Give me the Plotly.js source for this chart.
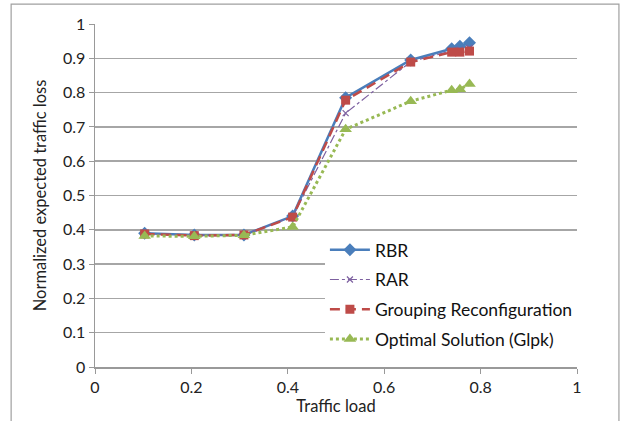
<!DOCTYPE html>
<html>
<head>
<meta charset="utf-8">
<script src="https://cdn.plot.ly/plotly-3.0.1.min.js"></script>
<style>
  html, body { margin: 0; padding: 0; background: #fff; }
  #chart { width: 625px; height: 421px; }
</style>
</head>
<body>
<div id="chart"></div>
<script>
// Traffic load on the x axis, shared by all four methods
const trafficLoad = [0.103, 0.206, 0.309, 0.41, 0.52, 0.655, 0.74, 0.757, 0.777];

// Normalized expected traffic loss per method
const rbrLoss      = [0.390, 0.385, 0.385, 0.440, 0.785, 0.895, 0.928, 0.935, 0.945];
const rarLoss      = [0.388, 0.384, 0.386, 0.438, 0.740, 0.890, 0.922, 0.925, 0.930];
const groupingLoss = [0.388, 0.383, 0.385, 0.437, 0.778, 0.889, 0.918, 0.918, 0.921];
const optimalLoss  = [0.382, 0.381, 0.384, 0.408, 0.693, 0.775, 0.807, 0.810, 0.825];

const seriesNames = ['RBR', 'RAR', 'Grouping Reconfiguration', 'Optimal Solution (Glpk)'];
const xTicks = [0, 0.2, 0.4, 0.6, 0.8, 1];
const yTicks = [0, 0.1, 0.2, 0.3, 0.4, 0.5, 0.6, 0.7, 0.8, 0.9, 1];

const font = 'Lato, Open Sans, sans-serif';

const traces = [
  {
    x: trafficLoad, y: rbrLoss, name: seriesNames[0], legendgroup: 'a',
    mode: 'lines+markers', type: 'scatter',
    line: { color: '#4a7ebb', width: 2.5 },
    marker: { symbol: 'diamond', size: 10, color: '#4a7ebb' }
  },
  {
    x: trafficLoad, y: rarLoss, name: seriesNames[1], legendgroup: 'b',
    mode: 'lines+markers', type: 'scatter',
    line: { color: '#7d60a0', width: 1.2, dash: 'dashdot' },
    marker: { symbol: 'x-thin', size: 6, color: '#7d60a0', line: { color: '#7d60a0', width: 1.2 } }
  },
  {
    x: trafficLoad, y: groupingLoss, name: seriesNames[2], legendgroup: 'c',
    mode: 'lines+markers', type: 'scatter',
    line: { color: '#be4b48', width: 2.5, dash: '10px,6px' },
    marker: { symbol: 'square', size: 9, color: '#be4b48' }
  },
  {
    x: trafficLoad, y: optimalLoss, name: seriesNames[3], legendgroup: 'd',
    mode: 'lines+markers', type: 'scatter',
    line: { color: '#98b954', width: 3, dash: 'dot' },
    marker: { symbol: 'triangle-up', size: 11, color: '#98b954' }
  }
];

const layout = {
  width: 625, height: 421,
  margin: { l: 95, r: 48, t: 24, b: 54 },
  paper_bgcolor: '#ffffff',
  plot_bgcolor: '#ffffff',
  font: { family: font, size: 16, color: '#222' },
  showlegend: true,
  legend: {
    x: 0.477, y: 0.394, xanchor: 'left', yanchor: 'top',
    bgcolor: '#ffffff', borderwidth: 0,
    font: { family: font, size: 17.5, color: '#111' },
    tracegroupgap: 4, itemwidth: 40
  },
  xaxis: {
    range: [0, 1], tickvals: xTicks, ticktext: xTicks.map(String),
    showgrid: false, zeroline: false,
    showline: true, linecolor: '#999', linewidth: 1.5,
    ticks: 'outside', ticklen: 5, tickcolor: '#999',
    tickfont: { family: font, size: 16, color: '#222' },
    title: { text: 'Traffic load', font: { family: font, size: 16.5, color: '#222' }, standoff: 0 }
  },
  yaxis: {
    range: [0, 1], tickvals: yTicks, ticktext: yTicks.map(String),
    showgrid: true, gridcolor: '#a6a6a6', gridwidth: 1.5,
    zeroline: false,
    showline: true, linecolor: '#999', linewidth: 1.5,
    ticks: 'outside', ticklen: 5, tickcolor: '#999',
    tickfont: { family: font, size: 16, color: '#222' },
    title: { text: 'Normalized expected traffic loss', font: { family: font, size: 16.5, color: '#222' }, standoff: 12 }
  },
  shapes: [
    // chart frame around the whole figure
    { type: 'rect', xref: 'paper', yref: 'paper',
      x0: -0.174, x1: 1.087, y0: -0.2, y1: 1.058,
      line: { color: '#a0a0a0', width: 1.2 }, fillcolor: 'rgba(0,0,0,0)', layer: 'below' }
  ]
};

Plotly.newPlot('chart', traces, layout, { displayModeBar: false, staticPlot: true });
</script>
</body>
</html>
